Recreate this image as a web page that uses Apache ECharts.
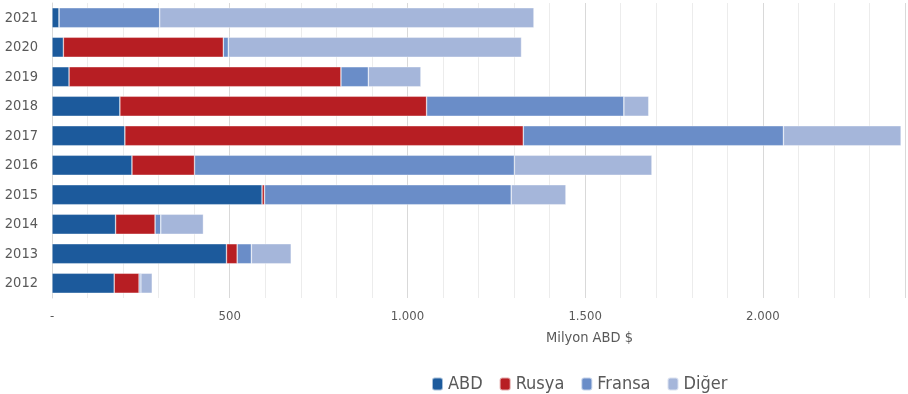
<!DOCTYPE html>
<html><head><meta charset="utf-8">
<script src="https://cdn.jsdelivr.net/npm/echarts@6/dist/echarts.min.js"></script>
<style>html,body{margin:0;padding:0;background:#fff}#c{width:908px;height:394px}</style>
</head><body><div id="c"></div>
<script>
const years = ['2012','2013','2014','2015','2016','2017','2018','2019','2020','2021'];
const abd    = [175, 491, 179, 591, 225, 205, 191, 48, 32, 20];
const rusya  = [70, 30, 111, 7, 176, 1121, 863, 765, 450, 0];
const fransa = [5, 40, 16, 694, 900, 732, 555, 77, 14, 283];
const diger  = [32, 112, 120, 154, 387, 331, 70, 148, 825, 1053];
const seriesNames = ['ABD','Rusya','Fransa','Diğer'];
const colors = ['#1c5a9c','#b71e23','#6a8dc8','#a5b6da'];
const FONT = '"Liberation Sans Narrow","DejaVu Sans Condensed","Open Sans",sans-serif';

const chart = echarts.init(document.getElementById('c'));
const fmt = v => v === 0 ? '-' : (v % 500 === 0 ? (v >= 1000 ? Math.floor(v/1000) + '.' + String(v%1000).padStart(3,'0') : String(v)) : '');
const mk = (name, data, i) => ({
  name, type: 'bar', stack: 'a', data, barWidth: 20,
  itemStyle: { color: colors[i], borderColor: 'rgba(255,255,255,0.6)', borderWidth: 0.6 }
});
chart.setOption({
  animation: false,
  textStyle: { fontFamily: FONT },
  grid: { left: 52, right: -1, top: 3, bottom: 96, containLabel: false },
  title: { text: 'Milyon ABD $', left: 541, top: 326, textStyle: { fontSize: 14.5, fontWeight: 'normal', color: '#595959', fontFamily: FONT } },
  legend: {
    data: seriesNames, left: 426, top: 370, itemWidth: 11, itemHeight: 13, itemGap: 16,
    textStyle: { fontSize: 18, color: '#595959', fontFamily: FONT }
  },
  xAxis: [{
    type: 'value', min: 0, max: 2400, interval: 100,
    axisLine: { show: false }, axisTick: { show: false },
    splitLine: { lineStyle: { color: '#ececec' } },
    axisLabel: { formatter: fmt, color: '#595959', fontSize: 13, margin: 12, showMaxLabel: true, fontFamily: FONT }
  }, {
    type: 'value', min: 0, max: 2400, interval: 500, position: 'bottom',
    axisLine: { show: false }, axisTick: { show: false }, axisLabel: { show: false },
    splitLine: { lineStyle: { color: '#d9d9d9' } }
  }],
  yAxis: {
    type: 'category', data: years,
    axisLine: { show: true, lineStyle: { color: '#d9d9d9' } }, axisTick: { show: false },
    axisLabel: { color: '#595959', fontSize: 14.5, margin: 14, fontFamily: FONT }
  },
  series: [mk('ABD', abd, 0), mk('Rusya', rusya, 1), mk('Fransa', fransa, 2), mk('Diğer', diger, 3)]
});
</script></body></html>
